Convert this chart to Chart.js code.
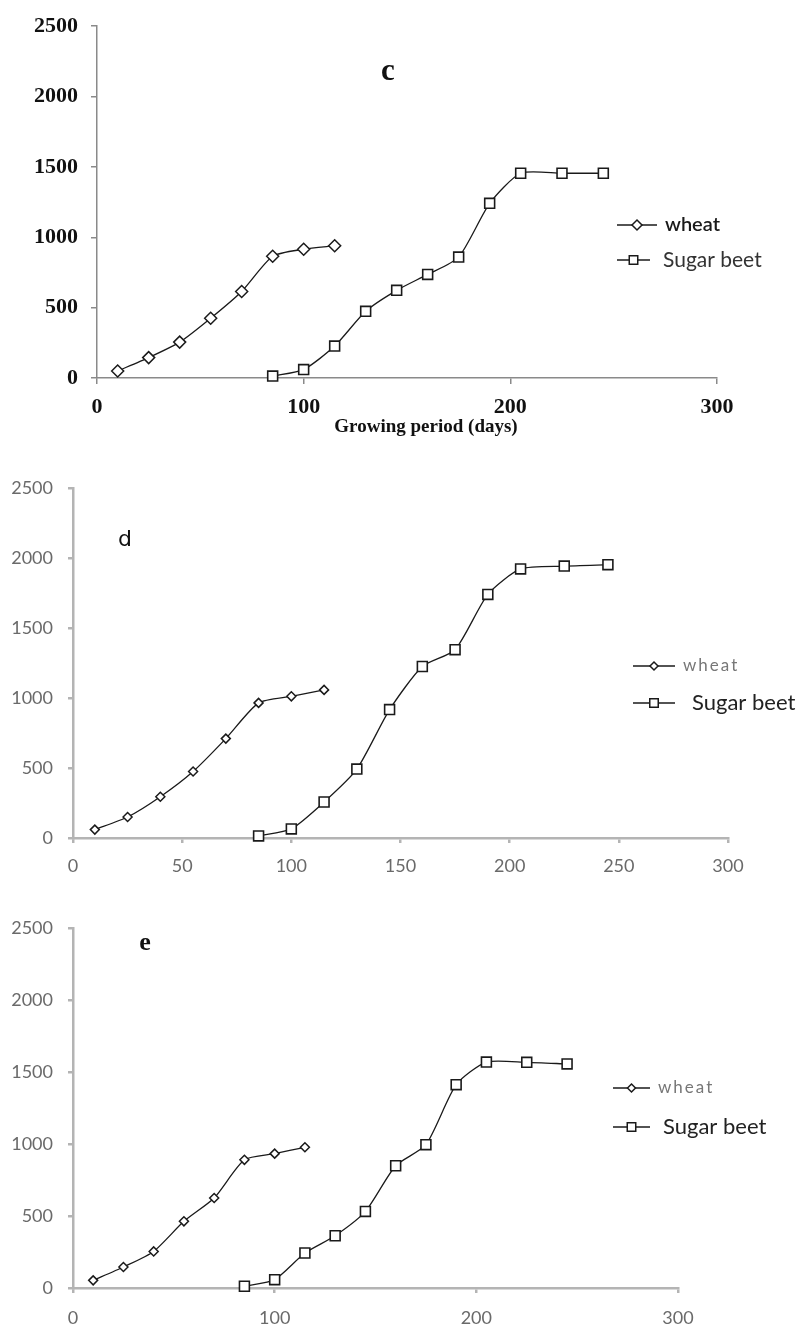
<!DOCTYPE html>
<html>
<head>
<meta charset="utf-8">
<script src="https://cdn.jsdelivr.net/npm/chart.js@4.4.1/dist/chart.umd.min.js"></script>
<style>
  body { margin: 0; background: #fff; }
  #wrap { position: relative; width: 805px; height: 1327px; overflow: hidden; }
  canvas { position: absolute; left: 0; }
</style>
</head>
<body>
<div id="wrap">
  <canvas id="chartC" width="805" height="440" style="top:0"></canvas>
  <canvas id="chartD" width="805" height="440" style="top:440px"></canvas>
  <canvas id="chartE" width="805" height="447" style="top:880px"></canvas>
</div>
<script>
// Dias de amostragem (período de crescimento)
const wheatDays = [10, 25, 40, 55, 70, 85, 100, 115];
const beetDays = [85, 100, 115, 130, 145, 160, 175, 190, 205, 225, 245];

// Valores de cada painel
const wheatC = [50, 145, 255, 425, 615, 865, 915, 940];
const beetC = [14, 60, 227, 474, 623, 736, 859, 1241, 1455, 1455, 1455];
const wheatD = [60, 150, 295, 475, 710, 965, 1012, 1058];
const beetD = [15, 65, 257, 492, 917, 1225, 1345, 1740, 1922, 1942, 1952];
const wheatE = [53, 146, 254, 463, 625, 890, 933, 977];
const beetE = [12, 58, 243, 363, 532, 849, 995, 1412, 1569, 1567, 1556];

// Eixos
const seriesLabels = ['wheat', 'Sugar beet'];
const yMax = 2500, yStep = 500;
const xMax = 300;
const xTitle = 'Growing period (days)';

function toPoints(days, vals) {
    return days.map((d, i) => ({ x: d, y: vals[i] }));
}

// desenha o marcador (losango ou quadrado) com fundo branco
function drawMarker(ctx, shape, x, y, r) {
    ctx.beginPath();
    if (shape === 'rectRot') {
        ctx.moveTo(x - r, y); ctx.lineTo(x, y - r); ctx.lineTo(x + r, y); ctx.lineTo(x, y + r);
        ctx.closePath();
    } else {
        const s = r * Math.SQRT1_2;
        ctx.rect(x - s, y - s, 2 * s, 2 * s);
    }
    ctx.fillStyle = '#fff';
    ctx.fill();
    ctx.lineWidth = 1.5;
    ctx.strokeStyle = '#1a1a1a';
    ctx.stroke();
}

// Plugin para a letra do painel, título do eixo e a legenda dentro do gráfico
const panelText = {
    id: 'panelText',
    afterDraw(chart, args, opts) {
        const ctx = chart.ctx;
        ctx.save();
        ctx.textBaseline = 'middle';
        ctx.textAlign = 'center';
        ctx.fillStyle = '#111';
        ctx.font = opts.letterFont;
        ctx.fillText(opts.letter, opts.letterX, opts.letterY);

        if (opts.title) {
            ctx.font = opts.title.font;
            ctx.fillText(opts.title.text, opts.title.x, opts.title.y);
        }

        opts.legend.forEach((item, i) => {
            const ds = chart.data.datasets[i];
            ctx.strokeStyle = '#1a1a1a';
            ctx.lineWidth = 1.3;
            ctx.beginPath();
            ctx.moveTo(item.x1, item.y);
            ctx.lineTo(item.x2, item.y);
            ctx.stroke();
            drawMarker(ctx, ds.pointStyle, (item.x1 + item.x2) / 2, item.y, item.r);
            ctx.textAlign = 'left';
            ctx.font = item.font;
            ctx.fillStyle = item.color;
            ctx.letterSpacing = item.spacing || '0px';
            ctx.fillText(ds.label, item.tx, item.y);
            ctx.letterSpacing = '0px';
        });
        ctx.restore();
    }
};

function makePanel(id, wheatVals, beetVals, cfg) {
    return new Chart(document.getElementById(id), {
        type: 'line',
        data: {
            datasets: [
                {
                    label: seriesLabels[0],
                    data: toPoints(wheatDays, wheatVals),
                    pointStyle: 'rectRot',
                    pointRadius: cfg.diamondR,
                    borderColor: '#1a1a1a',
                    pointBorderColor: '#1a1a1a',
                    pointBackgroundColor: '#fff',
                    borderWidth: 1.3,
                    pointBorderWidth: 1.5,
                    tension: 0.22,
                    clip: false
                },
                {
                    label: seriesLabels[1],
                    data: toPoints(beetDays, beetVals),
                    pointStyle: 'rect',
                    pointRadius: cfg.squareR,
                    borderColor: '#1a1a1a',
                    pointBorderColor: '#1a1a1a',
                    pointBackgroundColor: '#fff',
                    borderWidth: 1.3,
                    pointBorderWidth: 1.6,
                    tension: 0.22,
                    clip: false
                }
            ]
        },
        options: {
            responsive: false,
            animation: false,
            events: [],
            layout: { padding: { top: cfg.top, right: cfg.right, left: 0, bottom: 0 } },
            scales: {
                x: {
                    type: 'linear',
                    min: 0,
                    max: xMax,
                    ticks: {
                        stepSize: cfg.xStep,
                        font: cfg.tickFont,
                        color: cfg.tickColor,
                        padding: cfg.xPad,
                        maxRotation: 0
                    },
                    grid: { drawOnChartArea: false, tickLength: cfg.tickLen, color: cfg.axisColor, lineWidth: cfg.axisWidth },
                    border: { color: cfg.axisColor, width: cfg.axisWidth },
                    afterFit: s => { s.height = cfg.xHeight; }
                },
                y: {
                    min: 0,
                    max: yMax,
                    ticks: {
                        stepSize: yStep,
                        font: cfg.tickFont,
                        color: cfg.tickColor,
                        padding: cfg.yPad,
                        callback: v => String(v)
                    },
                    grid: { drawOnChartArea: false, tickLength: cfg.tickLen, color: cfg.axisColor, lineWidth: cfg.axisWidth },
                    border: { color: cfg.axisColor, width: cfg.axisWidth },
                    afterFit: s => { s.width = cfg.yWidth; }
                }
            },
            plugins: {
                legend: { display: false },
                tooltip: { enabled: false },
                panelText: cfg.text
            }
        },
        plugins: [panelText]
    });
}

// Painel c (fontes serifadas em negrito)
makePanel('chartC', wheatC, beetC, {
    top: 25, right: 88, yWidth: 97, xHeight: 62,
    xStep: 100, tickLen: 6, xPad: 10, yPad: 13,
    tickFont: { family: '"Liberation Serif"', size: 22, weight: 'bold' },
    tickColor: '#111',
    axisColor: '#8a8a8a', axisWidth: 1.5,
    diamondR: 6, squareR: 7,
    text: {
        letter: 'c', letterX: 388, letterY: 72, letterFont: 'bold 31px "Liberation Serif"',
        title: { text: xTitle, x: 426, y: 427, font: 'bold 19px "Liberation Serif"' },
        legend: [
            { x1: 617, x2: 657, y: 225, r: 5, tx: 665, font: '600 20px Lato', color: '#1a1a1a' },
            { x1: 617, x2: 650, y: 260, r: 6, tx: 663, font: '21px Lato', color: '#333' }
        ]
    }
});

// Painel d
makePanel('chartD', wheatD, beetD, {
    top: 48, right: 77, yWidth: 73, xHeight: 42,
    xStep: 50, tickLen: 5, xPad: 12, yPad: 15,
    tickFont: { family: 'Lato', size: 18 },
    tickColor: '#6a6a6a',
    axisColor: '#b4b4b4', axisWidth: 2.5,
    diamondR: 4.5, squareR: 7,
    text: {
        letter: 'd', letterX: 125, letterY: 100, letterFont: '22px "DejaVu Sans"',
        legend: [
            { x1: 633, x2: 675, y: 226, r: 4, tx: 683, font: '17px Lato', color: '#777', spacing: '2px' },
            { x1: 633, x2: 675, y: 263, r: 6, tx: 692, font: '22px Lato', color: '#222' }
        ]
    }
});

// Painel e
makePanel('chartE', wheatE, beetE, {
    top: 48, right: 127, yWidth: 73, xHeight: 39,
    xStep: 100, tickLen: 5, xPad: 14, yPad: 15,
    tickFont: { family: 'Lato', size: 18 },
    tickColor: '#6a6a6a',
    axisColor: '#b4b4b4', axisWidth: 2.5,
    diamondR: 4.5, squareR: 7,
    text: {
        letter: 'e', letterX: 145, letterY: 63, letterFont: 'bold 26px "Liberation Serif"',
        legend: [
            { x1: 613, x2: 650, y: 208, r: 4, tx: 658, font: '17px Lato', color: '#777', spacing: '2px' },
            { x1: 613, x2: 650, y: 247, r: 6, tx: 663, font: '22px Lato', color: '#222' }
        ]
    }
});
</script>
</body>
</html>
